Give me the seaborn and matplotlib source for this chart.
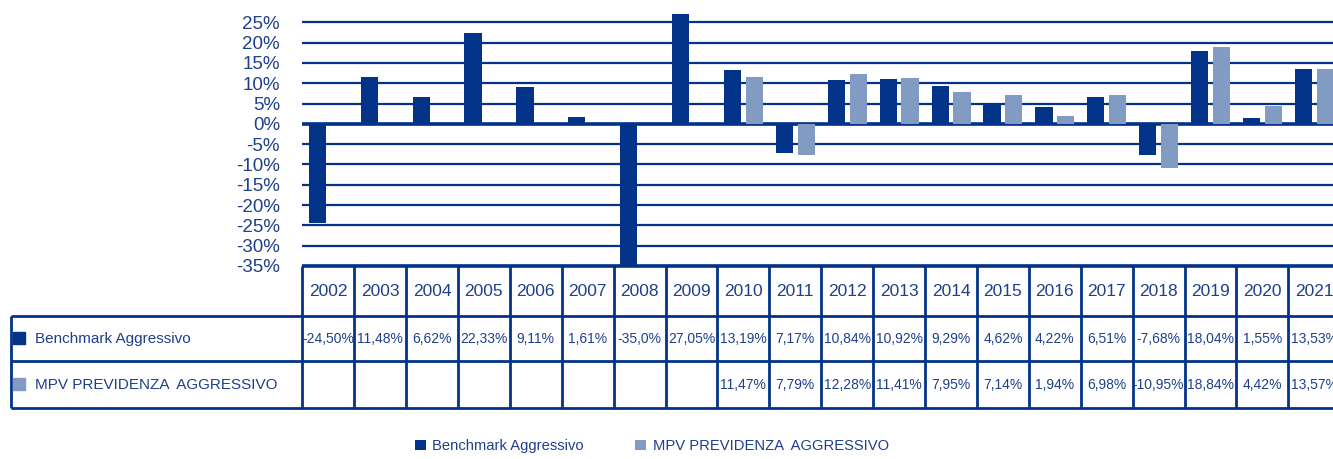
import pandas as pd
import seaborn as sns
import matplotlib.pyplot as plt

# data
years = [str(y) for y in range(2002, 2022)]
bench = [-24.50, 11.48, 6.62, 22.33, 9.11, 1.61, -35.0, 27.05, 13.19, -7.17,
         10.84, 10.92, 9.29, 4.62, 4.22, 6.51, -7.68, 18.04, 1.55, 13.53]
mpv = [None] * 8 + [11.47, -7.79, 12.28, 11.41, 7.95, 7.14, 1.94, 6.98,
                    -10.95, 18.84, 4.42, 13.57]
# table text as printed under the chart
bench_labels = ["-24,50%", "11,48%", "6,62%", "22,33%", "9,11%", "1,61%", "-35,0%",
                "27,05%", "13,19%", "7,17%", "10,84%", "10,92%", "9,29%", "4,62%",
                "4,22%", "6,51%", "-7,68%", "18,04%", "1,55%", "13,53%"]
mpv_labels = [""] * 8 + ["11,47%", "7,79%", "12,28%", "11,41%", "7,95%", "7,14%",
                         "1,94%", "6,98%", "-10,95%", "18,84%", "4,42%", "13,57%"]
series = ["Benchmark Aggressivo", "MPV PREVIDENZA  AGGRESSIVO"]
yticks = list(range(-35, 30, 5))

DARK = "#033388"
LIGHT = "#819BC2"
TXT = "#1F3F8C"

sns.set_style("white")
plt.rcParams['font.family'] = ['Liberation Sans', 'DejaVu Sans']

df = pd.DataFrame({"Year": years * 2,
                   "Series": [series[0]] * len(years) + [series[1]] * len(years),
                   "Value": bench + mpv}).dropna()

W, H = 1333, 459
fig = plt.figure(figsize=(W / 100, H / 100), dpi=100)

# bar chart area: x 302..1340 px, y 2..266 px
ax = fig.add_axes([302.3 / W, (H - 266) / H, 20 * 51.9 / W, 264 / H])
sns.barplot(data=df, x="Year", y="Value", hue="Series", order=years,
            hue_order=series, palette=[DARK, LIGHT], saturation=1,
            width=0.84, gap=0.21, linewidth=0, errorbar=None, ax=ax, zorder=3)
ax.set_xlim(-0.5, 19.5)
ax.set_ylim(-35, 30)
ax.set_yticks(yticks)
ax.set_yticklabels([f"{t}%" for t in yticks], color=TXT, fontsize=13.5)
ax.tick_params(axis="y", length=0, pad=16)
ax.set_xticks([])
ax.set_xlabel("")
ax.set_ylabel("")
for s in ax.spines.values():
    s.set_visible(False)
ax.yaxis.grid(True, color=DARK, linewidth=1.6)
ax.set_axisbelow(True)
ax.axhline(0, color=DARK, linewidth=2.6, zorder=2)

sns.move_legend(ax, "center", bbox_to_anchor=(0.489, 0.028),
                bbox_transform=fig.transFigure, ncol=2, frameon=False, title=None,
                fontsize=10.6, handlelength=0.75, handleheight=0.75,
                handletextpad=0.45, columnspacing=3.5, labelcolor=TXT)

# data table under the chart
left_col = (302.3 - 11) / 51.9
x0 = -0.5 - left_col
tab = fig.add_axes([11 / W, (H - 408) / H, (1340.2 - 11) / W, 142 / H])
tab.set_xlim(x0, 19.5)
tab.set_ylim(408, 266)
tab.axis("off")
lw = 2
tab.hlines(266, -0.5, 19.5, color=DARK, lw=2.6, clip_on=False)
tab.hlines([316, 361, 408], x0, 19.5, color=DARK, lw=lw, clip_on=False)
tab.vlines([i - 0.5 for i in range(21)], 266, 408, color=DARK, lw=lw, clip_on=False)
tab.vlines(x0, 316, 408, color=DARK, lw=lw, clip_on=False)

for i, y in enumerate(years):
    tab.text(i, 292, y, ha="center", va="center", fontsize=12.5, color=TXT)
    tab.text(i, 339, bench_labels[i], ha="center", va="center", fontsize=10, color=TXT)
    tab.text(i, 385, mpv_labels[i], ha="center", va="center", fontsize=10, color=TXT)

for row_y, name, col in [(339, series[0], DARK), (385, series[1], LIGHT)]:
    tab.plot(x0 + 8.5 / 51.9, row_y - 1, marker="s", markersize=8.5, color=col, clip_on=False)
    tab.text(x0 + 24 / 51.9, row_y, name, ha="left", va="center", fontsize=11, color=TXT)

fig.savefig("out.png", dpi=100)
